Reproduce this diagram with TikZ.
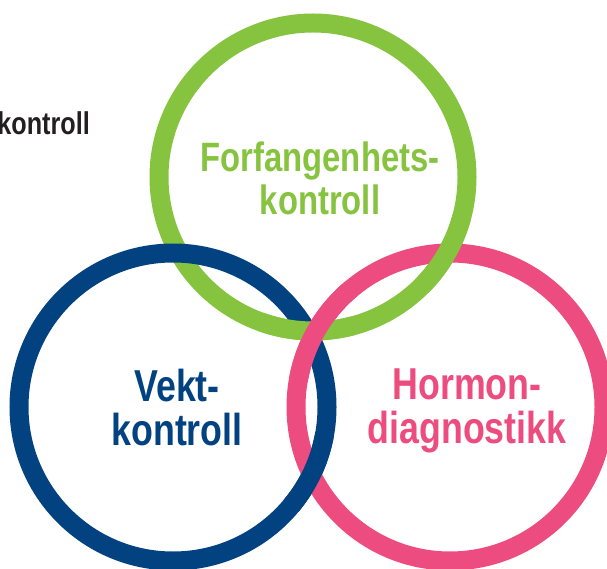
\documentclass[tikz,border=0pt]{standalone}
\usepackage{fontspec}
\newfontfamily\condfont{Liberation Sans}[FakeStretch=0.8]
\definecolor{ringgreen}{RGB}{134,196,64}
\definecolor{ringblue}{RGB}{2,66,129}
\definecolor{ringpink}{RGB}{236,76,128}
\definecolor{textgray}{RGB}{35,31,32}
\begin{document}
\begin{tikzpicture}[x=1pt,y=1pt,
  ring/.style={line width=19pt},
  ringtext/.style={inner sep=0pt,align=center,font=\condfont\bfseries\fontsize{44.7}{44}\selectfont}]
\useasboundingbox (0,0) rectangle (607,568);

\coordinate (g) at (313,391);
\coordinate (b) at (173,161);
\coordinate (p) at (450,161);

\draw[ring,ringgreen] (g) circle (154pt);
\draw[ring,ringblue] (b) circle (154pt);
\draw[ring,ringpink] (p) circle (154pt);

\draw[ring,ringgreen] ([shift={(315:154pt)}]g) arc[start angle=315,end angle=345,radius=154pt];
\draw[ring,ringblue] ([shift={(-40:154pt)}]b) arc[start angle=-40,end angle=-10,radius=154pt];
\draw[ring,ringgreen] ([shift={(250:154pt)}]g) arc[start angle=250,end angle=285,radius=154pt];
\draw[ring,ringpink] ([shift={(130:154pt)}]p) arc[start angle=130,end angle=170,radius=154pt];

\node[ringtext,text=ringgreen,font=\condfont\bfseries\fontsize{41}{43}\selectfont] (forfang) at (320,389.5) {Forfangenhets-\\kontroll};
\node[ringtext,text=ringblue] (vekt) at (177,160.3) {Vekt-\\kontroll};
\node[ringtext,text=ringpink] (hormon) at (467,156.8) {Hormon-\\diagnostikk};
\node[ringtext,anchor=base east,text=textgray,font=\condfont\bfseries\fontsize{31.5}{36}\selectfont] (kontroll) at (90,433) {kontroll};
\end{tikzpicture}
\end{document}
